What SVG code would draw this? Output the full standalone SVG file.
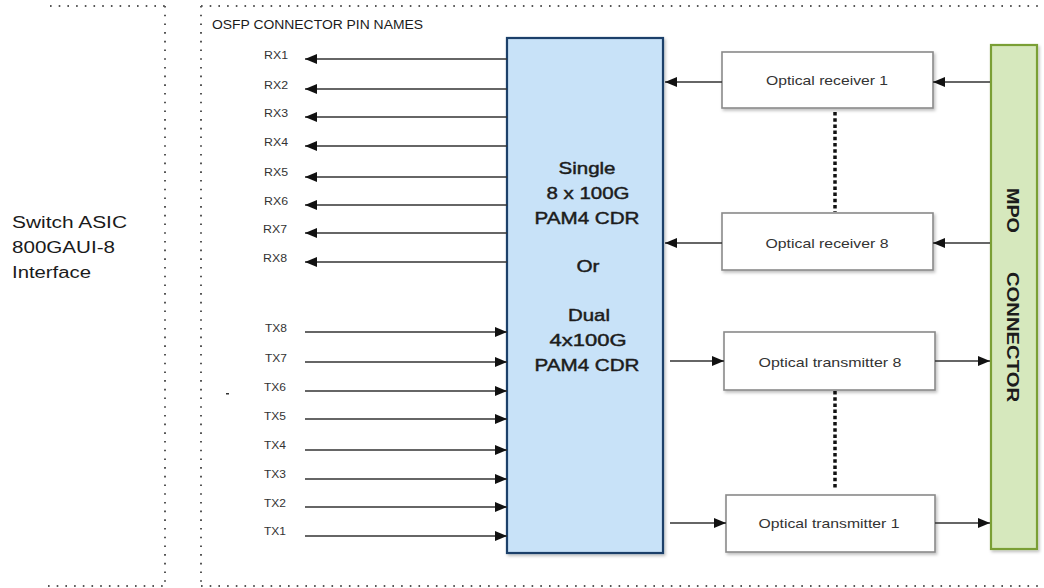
<svg xmlns="http://www.w3.org/2000/svg" width="1044" height="588" viewBox="0 0 1044 588">
<style>
text{font-family:"Liberation Sans",Arial,sans-serif;fill:#1a1a1a}
.frame{stroke:#555;stroke-width:2;stroke-dasharray:1.6 7.1;fill:none}
.pin{font-size:11px;fill:#333}
.wire-r{stroke:#333;stroke-width:1.3;fill:none;marker-end:url(#ah)}
.optbox{fill:#fff;stroke:#8a8a8a;stroke-width:1.6}
.optlbl{font-size:13px;fill:#333;text-anchor:middle}
.cdr{font-size:17px;text-anchor:middle;fill:#1c1c1c;stroke:#1c1c1c;stroke-width:0.45}
.mpo{font-size:17px;font-weight:bold;text-anchor:middle;fill:#1c1c1c}
.dots{stroke:#111;stroke-width:3.5;stroke-dasharray:3.5 2.7;fill:none}
</style>
<defs>
<marker id="ah" markerUnits="userSpaceOnUse" markerWidth="13" markerHeight="11" refX="12" refY="5" orient="auto">
<path d="M0,0 L12,5 L0,10 z" fill="#111"/>
</marker>
<filter id="sh" x="-5%" y="-5%" width="115%" height="115%">
<feDropShadow dx="1.5" dy="2" stdDeviation="1.5" flood-color="#000" flood-opacity="0.25"/>
</filter>
</defs>
<rect width="1044" height="588" fill="#fff"/>

<g id="frame">
<path class="frame" d="M50,6 H165 M165,6 V586 M48,586 H165 M201,6 H1040 M201,6 V586 M201,586 H1040"/>
<rect x="226" y="393" width="3" height="1.5" fill="#333"/>
</g>

<g id="asic-label">
<text x="12" y="228" font-size="16" textLength="115" lengthAdjust="spacingAndGlyphs">Switch ASIC</text>
<text x="12" y="253" font-size="16" textLength="103" lengthAdjust="spacingAndGlyphs">800GAUI-8</text>
<text x="12" y="278" font-size="16" textLength="79" lengthAdjust="spacingAndGlyphs">Interface</text>
</g>

<g id="pin-title">
<text x="212" y="29" font-size="12.5" fill="#333" textLength="211" lengthAdjust="spacingAndGlyphs">OSFP CONNECTOR PIN NAMES</text>
</g>

<g id="pin-labels">
<text class="pin" x="264" y="59" textLength="24" lengthAdjust="spacingAndGlyphs">RX1</text>
<text class="pin" x="264" y="89" textLength="24" lengthAdjust="spacingAndGlyphs">RX2</text>
<text class="pin" x="264" y="117" textLength="24" lengthAdjust="spacingAndGlyphs">RX3</text>
<text class="pin" x="264" y="146" textLength="24" lengthAdjust="spacingAndGlyphs">RX4</text>
<text class="pin" x="264" y="176" textLength="24" lengthAdjust="spacingAndGlyphs">RX5</text>
<text class="pin" x="264" y="205" textLength="24" lengthAdjust="spacingAndGlyphs">RX6</text>
<text class="pin" x="263" y="233" textLength="24" lengthAdjust="spacingAndGlyphs">RX7</text>
<text class="pin" x="263" y="262" textLength="24" lengthAdjust="spacingAndGlyphs">RX8</text>
<text class="pin" x="265" y="332" textLength="22" lengthAdjust="spacingAndGlyphs">TX8</text>
<text class="pin" x="265" y="362" textLength="22" lengthAdjust="spacingAndGlyphs">TX7</text>
<text class="pin" x="264" y="391" textLength="22" lengthAdjust="spacingAndGlyphs">TX6</text>
<text class="pin" x="264" y="420" textLength="22" lengthAdjust="spacingAndGlyphs">TX5</text>
<text class="pin" x="264" y="449" textLength="22" lengthAdjust="spacingAndGlyphs">TX4</text>
<text class="pin" x="264" y="478" textLength="22" lengthAdjust="spacingAndGlyphs">TX3</text>
<text class="pin" x="264" y="507" textLength="22" lengthAdjust="spacingAndGlyphs">TX2</text>
<text class="pin" x="264" y="535" textLength="22" lengthAdjust="spacingAndGlyphs">TX1</text>
</g>

<g id="cdr">
<rect x="507" y="38" width="156" height="515" fill="#c8e2f8" stroke="#1d3f6b" stroke-width="2.2" filter="url(#sh)"/>
<text class="cdr" x="587" y="174" textLength="57" lengthAdjust="spacingAndGlyphs">Single</text>
<text class="cdr" x="588" y="199" textLength="83" lengthAdjust="spacingAndGlyphs">8 x 100G</text>
<text class="cdr" x="587" y="224" textLength="105" lengthAdjust="spacingAndGlyphs">PAM4 CDR</text>
<text class="cdr" x="588" y="272" textLength="23" lengthAdjust="spacingAndGlyphs">Or</text>
<text class="cdr" x="589" y="321" textLength="42" lengthAdjust="spacingAndGlyphs">Dual</text>
<text class="cdr" x="588" y="346" textLength="77" lengthAdjust="spacingAndGlyphs">4x100G</text>
<text class="cdr" x="587" y="371" textLength="105" lengthAdjust="spacingAndGlyphs">PAM4 CDR</text>
</g>

<g id="rx1">
<rect class="optbox" x="722" y="52" width="211" height="56" filter="url(#sh)"/>
<text class="optlbl" x="827" y="85" textLength="122" lengthAdjust="spacingAndGlyphs">Optical receiver 1</text>
</g>
<g id="rx8">
<rect class="optbox" x="722" y="213" width="211" height="57" filter="url(#sh)"/>
<text class="optlbl" x="827" y="248" textLength="123" lengthAdjust="spacingAndGlyphs">Optical receiver 8</text>
</g>
<g id="tx8">
<rect class="optbox" x="724" y="332" width="211" height="58" filter="url(#sh)"/>
<text class="optlbl" x="830" y="367" textLength="143" lengthAdjust="spacingAndGlyphs">Optical transmitter 8</text>
</g>
<g id="tx1">
<rect class="optbox" x="726" y="495" width="209" height="57" filter="url(#sh)"/>
<text class="optlbl" x="829" y="528" textLength="141" lengthAdjust="spacingAndGlyphs">Optical transmitter 1</text>
</g>

<g id="mpo">
<rect x="991" y="45" width="46" height="504" fill="#d6e8bd" stroke="#7a9f36" stroke-width="2.2" filter="url(#sh)"/>
<text class="mpo" transform="translate(1007,210.5) rotate(90)" x="0" y="0" textLength="45" lengthAdjust="spacingAndGlyphs">MPO</text>
<text class="mpo" transform="translate(1007,337) rotate(90)" x="0" y="0" textLength="130" lengthAdjust="spacingAndGlyphs">CONNECTOR</text>
</g>

<g id="connectors">
<path class="wire-r" d="M507,59 H305"/>
<path class="wire-r" d="M507,89 H305"/>
<path class="wire-r" d="M507,117 H305"/>
<path class="wire-r" d="M507,146 H305"/>
<path class="wire-r" d="M507,177 H305"/>
<path class="wire-r" d="M507,205 H305"/>
<path class="wire-r" d="M507,233 H305"/>
<path class="wire-r" d="M507,262 H305"/>
<path class="wire-r" d="M305,332 H507"/>
<path class="wire-r" d="M305,362 H507"/>
<path class="wire-r" d="M305,391 H507"/>
<path class="wire-r" d="M305,419 H507"/>
<path class="wire-r" d="M305,450 H507"/>
<path class="wire-r" d="M305,479 H507"/>
<path class="wire-r" d="M305,507 H507"/>
<path class="wire-r" d="M305,536 H507"/>
<path class="wire-r" d="M722,82 H665"/>
<path class="wire-r" d="M722,243 H665"/>
<path class="wire-r" d="M990,82 H933"/>
<path class="wire-r" d="M990,243 H933"/>
<path class="wire-r" d="M670,361 H724"/>
<path class="wire-r" d="M670,523 H726"/>
<path class="wire-r" d="M935,361 H990"/>
<path class="wire-r" d="M935,523 H990"/>
<path class="dots" d="M835,112 V212"/>
<path class="dots" d="M835,391 V489"/>
</g>
</svg>
